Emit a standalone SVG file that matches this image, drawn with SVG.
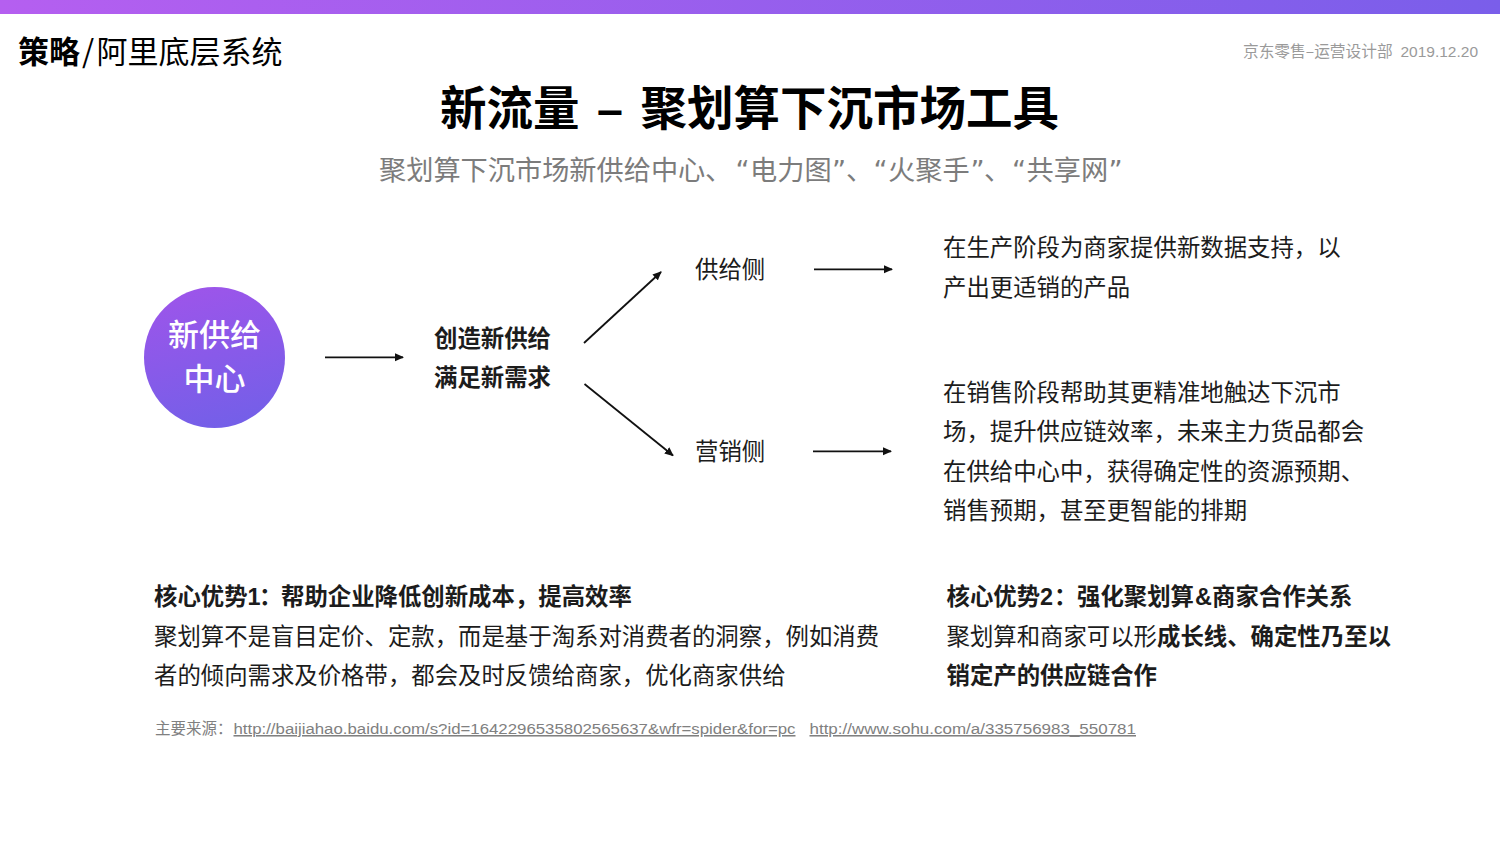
<svg xmlns="http://www.w3.org/2000/svg" width="1500" height="843" viewBox="0 0 1500 843">
<style>
text{font-family:"Noto Sans CJK SC","Liberation Sans",sans-serif;fill:#1c1c1c}
.b{font-weight:700}
.m{font-weight:500}
.t{font-size:23.4px}
.hd{fill:#000}
.lat{font-family:"Liberation Sans",sans-serif}
.q{font-family:"DejaVu Sans",sans-serif}
.src{font-size:15.5px;fill:#808080}
.u{text-decoration:underline}
.conn line{stroke:#111;stroke-width:1.8;marker-end:url(#a)}
</style>
<defs>
<linearGradient id="bar" x1="0" x2="1" y1="0" y2="0"><stop offset="0" stop-color="#b55ff0"/><stop offset="1" stop-color="#7a5eea"/></linearGradient>
<linearGradient id="circ" x1="0.3" x2="0.55" y1="0" y2="1"><stop offset="0" stop-color="#9d55ea"/><stop offset="1" stop-color="#745fe8"/></linearGradient>
<marker id="a" viewBox="0 0 9 9" refX="8" refY="4.500" markerWidth="9" markerHeight="9" markerUnits="userSpaceOnUse" orient="auto"><path d="M0 0.500L9 4.500L0 8.500Z" fill="#111"/></marker>
</defs>
<rect width="1500" height="843" fill="#fff"/>
<rect id="top-bar" width="1500" height="14" fill="url(#bar)"/>
<text y="63" font-size="31" class="hd"><tspan x="18" class="b">策略</tspan><tspan x="82">/</tspan><tspan x="96.500">阿里底层系统</tspan></text>
<text x="1243" y="57" font-size="15.700" style="fill:#9a9a9a">京东零售–运营设计部</text>
<text x="1478" y="57" font-size="15.500" text-anchor="end" class="lat" style="fill:#9a9a9a">2019.12.20</text>
<text y="125" font-size="46.500" class="b hd"><tspan x="440">新流量</tspan><tspan x="597" class="lat">–</tspan><tspan x="640.500">聚划算下沉市场工具</tspan></text>
<text y="180" font-size="27.200" style="fill:#7c7c7c"><tspan x="379">聚划算下沉市场新供给中心</tspan><tspan x="705">、</tspan><tspan x="735.500" class="q">“</tspan><tspan x="750">电力图</tspan><tspan x="832" class="q">”</tspan><tspan x="846">、</tspan><tspan x="873.500" class="q">“</tspan><tspan x="888">火聚手</tspan><tspan x="970.500" class="q">”</tspan><tspan x="984">、</tspan><tspan x="1012" class="q">“</tspan><tspan x="1026.500">共享网</tspan><tspan x="1108.500" class="q">”</tspan></text>
<g id="node-center">
<circle cx="214.500" cy="357.500" r="70.500" fill="url(#circ)"/>
<text x="214.500" y="346" font-size="31" class="m" text-anchor="middle" style="fill:#fff">新供给</text>
<text x="214.500" y="390" font-size="31" class="m" text-anchor="middle" style="fill:#fff">中心</text>
</g>
<g id="node-create">
<text x="492.500" y="347" class="t b" text-anchor="middle">创造新供给</text>
<text x="492.500" y="386" class="t b" text-anchor="middle">满足新需求</text>
</g>
<g id="node-supply"><text x="695" y="278" class="t">供给侧</text></g>
<g id="node-sales"><text x="695" y="460" class="t">营销侧</text></g>
<g id="node-supply-desc">
<text x="943" y="256" class="t">在生产阶段为商家提供新数据支持，以</text>
<text x="943" y="296" class="t">产出更适销的产品</text>
</g>
<g id="node-sales-desc">
<text x="943" y="401" class="t">在销售阶段帮助其更精准地触达下沉市</text>
<text x="943" y="440" class="t">场，提升供应链效率，未来主力货品都会</text>
<text x="943" y="480" class="t">在供给中心中，获得确定性的资源预期、</text>
<text x="943" y="519" class="t">销售预期，甚至更智能的排期</text>
</g>
<g class="conn" id="connectors">
<line x1="325" y1="357.300" x2="403" y2="357.300"/>
<line x1="584" y1="343" x2="661" y2="272"/>
<line x1="584.500" y1="384" x2="673" y2="455.500"/>
<line x1="814" y1="269.300" x2="892" y2="269.300"/>
<line x1="813" y1="451.300" x2="891" y2="451.300"/>
</g>
<g id="advantage-1">
<text y="605" class="t b"><tspan x="154">核心优势</tspan><tspan class="lat">1</tspan><tspan x="259">：</tspan><tspan x="281">帮助企业降低创新成本，提高效率</tspan></text>
<text x="154" y="645" class="t">聚划算不是盲目定价、定款，而是基于淘系对消费者的洞察，例如消费</text>
<text x="154" y="684" class="t">者的倾向需求及价格带，都会及时反馈给商家，优化商家供给</text>
</g>
<g id="advantage-2">
<text y="605" class="t b"><tspan x="946.500">核心优势</tspan><tspan class="lat">2</tspan><tspan x="1054">：</tspan><tspan x="1077">强化聚划算</tspan><tspan class="lat" x="1195">&amp;</tspan><tspan x="1212">商家合作关系</tspan></text>
<text x="946.500" y="645" class="t">聚划算和商家可以形<tspan class="b">成长线、确定性乃至以</tspan></text>
<text x="946.500" y="684" class="t b">销定产的供应链合作</text>
</g>
<g id="sources">
<text x="155" y="734" class="src">主要来源：</text>
<text x="233.500" y="734" class="src u lat" textLength="562" lengthAdjust="spacingAndGlyphs">http://baijiahao.baidu.com/s?id=1642296535802565637&amp;wfr=spider&amp;for=pc</text>
<text x="809.500" y="734" class="src u lat" textLength="326.500" lengthAdjust="spacingAndGlyphs">http://www.sohu.com/a/335756983_550781</text>
</g>
</svg>
